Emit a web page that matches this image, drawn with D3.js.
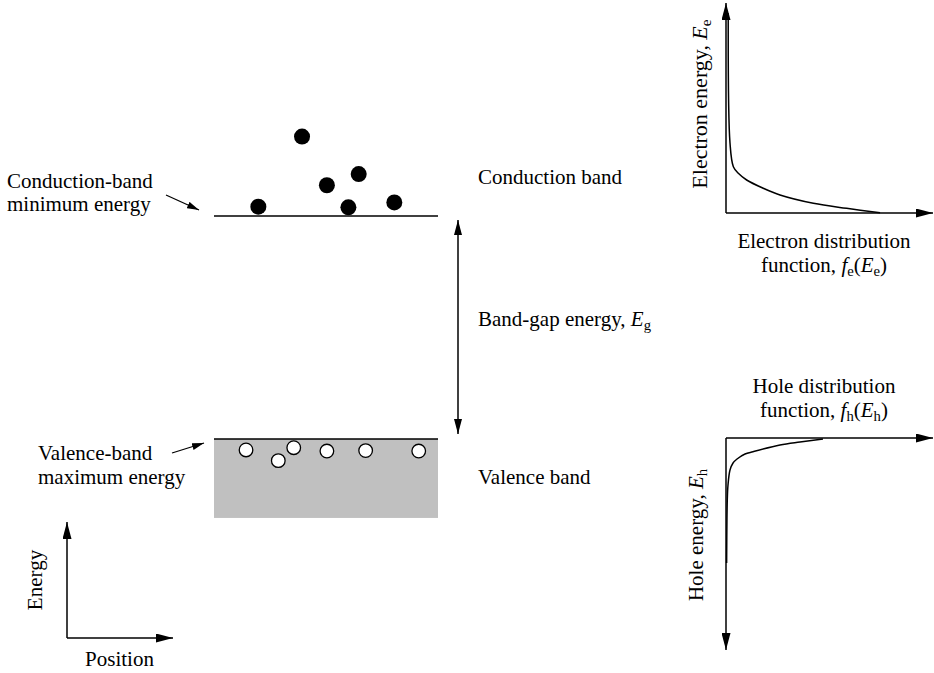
<!DOCTYPE html>
<html>
<head>
<meta charset="utf-8">
<script src="https://cdn.jsdelivr.net/npm/d3@7"></script>
<style>
  html, body { margin: 0; padding: 0; background: #fff; }
  svg { display: block; }
  text { font-family: "Liberation Serif", "Times New Roman", serif; fill: #000; }
</style>
</head>
<body>
<div id="chart"></div>
<script>
// ---------------- DATA ----------------
// Band diagram: position (0..1 across the band), energy (units of Eg, valence-band max = 0)
const bandGap = 1.0;
const valenceDepth = -0.354;
const electronPos = [0.393, 0.646, 0.504, 0.198, 0.600, 0.805];
const electronEnergy = [1.356, 1.188, 1.138, 1.042, 1.039, 1.061];
const holePos = [0.143, 0.287, 0.356, 0.504, 0.677, 0.914];
const holeEnergy = [-0.049, -0.097, -0.039, -0.054, -0.052, -0.054];

// Electron distribution function f_e(E_e)
const eDistF = [0.014, 0.025, 0.046, 0.077, 0.129, 0.233, 0.3375, 0.546, 0.754, 0.963];
const eDistE = [0.9985, 0.35, 0.2315, 0.1985, 0.165, 0.1235, 0.09, 0.0485, 0.0235, 0.0015];

// Hole distribution function f_h(E_h)
const hDistF = [0.004, 0.008, 0.0125, 0.025, 0.044, 0.069, 0.119, 0.169, 0.3375, 0.4625, 0.606];
const hDistE = [0.625, 0.31, 0.235, 0.16, 0.125, 0.105, 0.08, 0.0685, 0.035, 0.02, 0.005];

// ---------------- DRAW ----------------
const W = 934, H = 673;
const svg = d3.select("#chart").append("svg").attr("width", W).attr("height", H);
svg.append("rect").attr("width", W).attr("height", H).attr("fill", "#fff");

const defs = svg.append("defs");
function marker(id, len, wid) {
  defs.append("marker")
    .attr("id", id)
    .attr("markerUnits", "userSpaceOnUse")
    .attr("viewBox", `0 0 ${len} ${wid}`)
    .attr("refX", len).attr("refY", wid / 2)
    .attr("markerWidth", len).attr("markerHeight", wid)
    .attr("orient", "auto-start-reverse")
    .append("path")
    .attr("d", `M0,0 L${len},${wid / 2} L0,${wid} Z`)
    .attr("fill", "#000");
}
marker("bigArrow", 17, 9);
marker("smallArrow", 12, 7);
marker("gapArrow", 15, 8);

const FS = 21;

// Band diagram scales
const xPos = d3.scaleLinear().domain([0, 1]).range([214, 438]);
const yE = d3.scaleLinear().domain([0, bandGap]).range([439, 216]);

// Valence band fill
svg.append("rect")
  .attr("x", xPos(0)).attr("y", yE(0))
  .attr("width", xPos(1) - xPos(0)).attr("height", yE(valenceDepth) - yE(0))
  .attr("fill", "#c0c0c0");
// Valence band max line
svg.append("line")
  .attr("x1", xPos(0)).attr("x2", xPos(1)).attr("y1", yE(0)).attr("y2", yE(0))
  .attr("stroke", "#000").attr("stroke-width", 1.5);
// Conduction band min line
svg.append("line")
  .attr("x1", xPos(0)).attr("x2", xPos(1)).attr("y1", yE(bandGap)).attr("y2", yE(bandGap))
  .attr("stroke", "#000").attr("stroke-width", 1.5);

// Electrons
svg.append("g").selectAll("circle")
  .data(d3.range(electronPos.length))
  .join("circle")
  .attr("cx", i => xPos(electronPos[i]))
  .attr("cy", i => yE(electronEnergy[i]))
  .attr("r", 8)
  .attr("fill", "#000");

// Holes
svg.append("g").selectAll("circle")
  .data(d3.range(holePos.length))
  .join("circle")
  .attr("cx", i => xPos(holePos[i]))
  .attr("cy", i => yE(holeEnergy[i]))
  .attr("r", 6.8)
  .attr("fill", "#fff")
  .attr("stroke", "#000")
  .attr("stroke-width", 1.3);

// Band gap double arrow
svg.append("line")
  .attr("x1", 458).attr("x2", 458)
  .attr("y1", yE(bandGap) + 4).attr("y2", yE(0) - 5)
  .attr("stroke", "#000").attr("stroke-width", 1.5)
  .attr("marker-start", "url(#gapArrow)")
  .attr("marker-end", "url(#gapArrow)");

// Pointer arrows
svg.append("line")
  .attr("x1", 166).attr("y1", 195).attr("x2", 199).attr("y2", 210)
  .attr("stroke", "#000").attr("stroke-width", 1.3)
  .attr("marker-end", "url(#smallArrow)");
svg.append("line")
  .attr("x1", 172).attr("y1", 453).attr("x2", 204).attr("y2", 443)
  .attr("stroke", "#000").attr("stroke-width", 1.3)
  .attr("marker-end", "url(#smallArrow)");

// Text helper
function label(x, y, parts, anchor = "start", rotate = 0, size = FS) {
  const t = svg.append("text")
    .attr("font-size", size)
    .attr("text-anchor", anchor)
    .attr("transform", `translate(${x},${y}) rotate(${rotate})`);
  parts.forEach(p => {
    const s = t.append("tspan").text(p.t);
    if (p.i) s.attr("font-style", "italic");
    if (p.sub) s.attr("font-size", size * 0.7).attr("dy", 4);
    if (p.up) s.attr("dy", -4);
  });
  return t;
}

label(7, 188, [{t: "Conduction-band"}]);
label(7, 211, [{t: "minimum energy"}]);
label(38, 460, [{t: "Valence-band"}]);
label(38, 484, [{t: "maximum energy"}]);
label(478, 183.5, [{t: "Conduction band"}]);
label(478, 484, [{t: "Valence band"}]);
label(478, 325.5, [{t: "Band-gap energy, "}, {t: "E", i: true}, {t: "g", sub: true}]);

// Bottom-left Energy/Position axes
svg.append("line").attr("x1", 67).attr("y1", 638).attr("x2", 67).attr("y2", 522)
  .attr("stroke", "#000").attr("stroke-width", 1.5).attr("marker-end", "url(#bigArrow)");
svg.append("line").attr("x1", 67).attr("y1", 638).attr("x2", 173).attr("y2", 638)
  .attr("stroke", "#000").attr("stroke-width", 1.5).attr("marker-end", "url(#bigArrow)");
label(42, 580, [{t: "Energy"}], "middle", -90);
label(119.5, 666, [{t: "Position"}], "middle");

// ---- Electron distribution plot ----
const efx = d3.scaleLinear().domain([0, 1]).range([726, 886]);
const efy = d3.scaleLinear().domain([0, 1]).range([213, 13]);
svg.append("line").attr("x1", efx(0)).attr("y1", efy(0)).attr("x2", efx(0)).attr("y2", 3)
  .attr("stroke", "#000").attr("stroke-width", 1.5).attr("marker-end", "url(#bigArrow)");
svg.append("line").attr("x1", efx(0)).attr("y1", efy(0)).attr("x2", 933).attr("y2", efy(0))
  .attr("stroke", "#000").attr("stroke-width", 1.5).attr("marker-end", "url(#bigArrow)");
const eLine = d3.line()
  .x(i => efx(eDistF[i])).y(i => efy(eDistE[i]))
  .curve(d3.curveCatmullRom.alpha(0.5));
svg.append("path").attr("d", eLine(d3.range(eDistF.length)))
  .attr("fill", "none").attr("stroke", "#000").attr("stroke-width", 1.5);
label(707, 104, [{t: "Electron energy, "}, {t: "E", i: true}, {t: "e", sub: true}], "middle", -90, 22);
label(824, 248, [{t: "Electron distribution"}], "middle");
label(824, 272, [{t: "function, "}, {t: "f", i: true}, {t: "e", sub: true}, {t: "(", up: true},
  {t: "E", i: true}, {t: "e", sub: true}, {t: ")", up: true}], "middle");

// ---- Hole distribution plot ----
const hfx = d3.scaleLinear().domain([0, 1]).range([726, 886]);
const hfy = d3.scaleLinear().domain([0, 1]).range([438, 638]);
svg.append("line").attr("x1", hfx(0)).attr("y1", hfy(0)).attr("x2", 933).attr("y2", hfy(0))
  .attr("stroke", "#000").attr("stroke-width", 1.5).attr("marker-end", "url(#bigArrow)");
svg.append("line").attr("x1", hfx(0)).attr("y1", hfy(0)).attr("x2", hfx(0)).attr("y2", 650)
  .attr("stroke", "#000").attr("stroke-width", 1.5).attr("marker-end", "url(#bigArrow)");
const hLine = d3.line()
  .x(i => hfx(hDistF[i])).y(i => hfy(hDistE[i]))
  .curve(d3.curveCatmullRom.alpha(0.5));
svg.append("path").attr("d", hLine(d3.range(hDistF.length)))
  .attr("fill", "none").attr("stroke", "#000").attr("stroke-width", 1.5);
label(703, 535, [{t: "Hole energy, "}, {t: "E", i: true}, {t: "h", sub: true}], "middle", -90);
label(824, 393, [{t: "Hole distribution"}], "middle");
label(824, 417, [{t: "function, "}, {t: "f", i: true}, {t: "h", sub: true}, {t: "(", up: true},
  {t: "E", i: true}, {t: "h", sub: true}, {t: ")", up: true}], "middle");
</script>
</body>
</html>
